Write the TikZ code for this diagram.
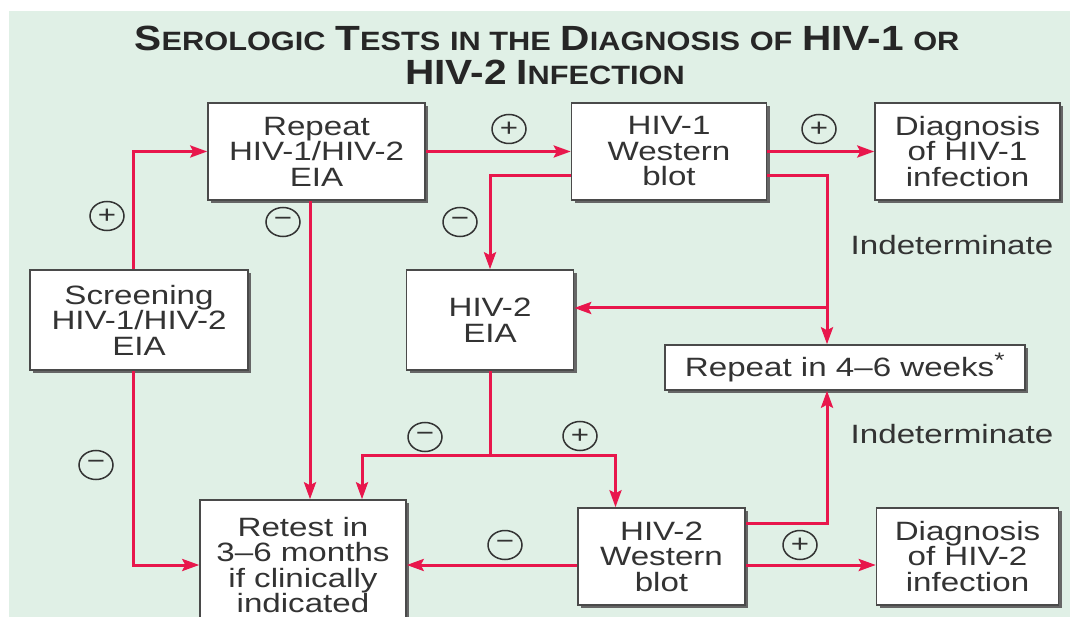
\documentclass[tikz,border=0pt]{standalone}
\usepackage{fontspec}
\setmainfont{Liberation Sans}[FakeStretch=1.25]
\newfontfamily\titlefont{Liberation Sans}[FakeStretch=1.16]
\usepackage{xcolor}
\usepackage{tikz}
\usetikzlibrary{arrows.meta,positioning,calc,shapes.geometric,shadows}
\definecolor{panelgreen}{HTML}{E0F0E6}
\definecolor{flowred}{HTML}{E8174C}
\definecolor{boxgray}{HTML}{4A4A4A}
\definecolor{inkgray}{HTML}{333333}
\newcommand{\tallcap}[1]{{\fontsize{35}{35}\selectfont #1}}
\newcommand{\lowcap}[1]{{\fontsize{26.5}{26.5}\selectfont #1}}
\newcommand{\capsc}[2]{\tallcap{#1}\lowcap{#2}}

\begin{document}
\begin{tikzpicture}[
  x=1pt, y=-1pt,
  box/.style={rectangle, draw=boxgray, line width=1.5pt, fill=white, inner sep=0pt,
              align=center, text=inkgray, font=\fontsize{26.5}{25.5}\selectfont,
              drop shadow={shadow xshift=3pt, shadow yshift=-3pt, fill=black!60, opacity=1}},
  arrow/.style={-{Stealth[length=17pt,width=12pt,inset=3pt]}, line width=3pt, flowred},
  link/.style={line width=3pt, flowred},
  sign/.style={ellipse, draw=inkgray, line width=1.5pt, minimum width=34pt, minimum height=29pt,
               inner sep=0pt, text=inkgray, font=\fontsize{25}{25}\selectfont},
  note/.style={text=inkgray, font=\fontsize{26.5}{25.5}\selectfont},
  heading/.style={font=\titlefont\bfseries\fontsize{30}{30}\selectfont, text=black!85}
]

% Panel
\useasboundingbox (0,0) rectangle (1070,617);
\fill[white] (0,0) rectangle (1070,617);
\fill[panelgreen] (9,11) rectangle (1070,617);

% Title
\node[heading] (titleA) at (547,38)
  {\capsc{S}{EROLOGIC} \capsc{T}{ESTS} \lowcap{IN THE} \capsc{D}{IAGNOSIS}
   \lowcap{OF} \tallcap{HIV-1} \lowcap{OR}};
\node[heading] (titleB) at (545,72)
  {\tallcap{HIV-2} \capsc{I}{NFECTION}};

% Top row
\node[box, minimum width=217pt, minimum height=97pt] (repeat) at (316.5,151.5)
  {Repeat\\HIV-1/HIV-2\\EIA};
\node[box, minimum width=195pt, minimum height=97pt, right=145pt of repeat] (wbone)
  {HIV-1\\Western\\blot};
\node[box, minimum width=185pt, minimum height=97pt, right=107pt of wbone] (diagone)
  {Diagnosis\\of HIV-1\\infection};

% Middle row
\node[box, minimum width=218pt, minimum height=100pt] (screen) at (139,320)
  {Screening\\HIV-1/HIV-2\\EIA};
\node[box, minimum width=167pt, minimum height=100pt, right=157pt of screen] (eiatwo)
  {HIV-2\\EIA};
\node[box, minimum width=360pt, minimum height=45pt] (later) at (845,367.5)
  {Repeat in 4--6 weeks\textsuperscript{\fontsize{21}{21}\selectfont *}};

% Bottom row
\node[box, minimum width=206pt, minimum height=130pt] (retest) at (303,565)
  {Retest in\\3--6 months\\if clinically\\indicated};
\node[box, minimum width=167pt, minimum height=97pt] (wbtwo) at (661.5,556.5)
  {HIV-2\\Western\\blot};
\node[box, minimum width=182pt, minimum height=97pt, right=130pt of wbtwo] (diagtwo)
  {Diagnosis\\of HIV-2\\infection};

% Branch points
\coordinate (rtA) at ([xshift=7pt]retest.north);
\coordinate (rtB) at ([xshift=59pt]retest.north);
\coordinate (wbL) at ([yshift=-24pt]wbone.west);
\coordinate (wbR) at ([yshift=-24pt]wbone.east);
\coordinate (laterA) at ([xshift=-18pt]later.north);
\coordinate (laterB) at ([xshift=-18pt]later.south);
\coordinate (brk) at ([yshift=12pt]eiatwo.east);
\coordinate (split) at ([yshift=-85pt]eiatwo.south);
\coordinate (wbtA) at ([xshift=-46pt]wbtwo.north);
\coordinate (wbtR) at ([yshift=33pt]wbtwo.east);

% Screening
\draw[arrow] ([xshift=-6pt]screen.north) |- (repeat.west);
\draw[arrow] ([xshift=-6pt]screen.south) |- (retest.west);

% Repeat EIA
\draw[arrow] (repeat.east) -- (wbone.west);
\draw[arrow] (rtA |- repeat.south) -- (rtA);

% HIV-1 Western blot
\draw[arrow] (wbone.east) -- (diagone.west);
\draw[arrow] (wbL) -| (eiatwo.north);
\draw[arrow] (wbR) -| (laterA);
\draw[arrow] (brk -| laterA) -- (brk);

% HIV-2 EIA
\draw[link] (eiatwo.south) -- (split);
\draw[arrow] (split) -| (rtB);
\draw[arrow] (split) -| (wbtA);

% HIV-2 Western blot
\draw[arrow] (wbtR) -| (laterB);
\draw[arrow] (wbtwo.west |- retest.east) -- (retest.east);
\draw[arrow] (wbtwo.east |- retest.east) -- (diagtwo.west |- retest.east);

% Signs
\node[sign] (plusA) at (107,216) {+};
\node[sign] (minusA) at (96,465) {−};
\node[sign] (plusB) at (509,129) {+};
\node[sign] (minusB) at (283,222) {−};
\node[sign] (minusC) at (460,222) {−};
\node[sign] (plusC) at (819,129) {+};
\node[sign] (minusD) at (425,437) {−};
\node[sign] (plusD) at (580,436) {+};
\node[sign] (minusE) at (505,545) {−};
\node[sign] (plusE) at (800,545) {+};

\node[note] (indetA) at (952,245) {Indeterminate};
\node[note] (indetB) at (952,434) {Indeterminate};

\end{tikzpicture}
\end{document}
